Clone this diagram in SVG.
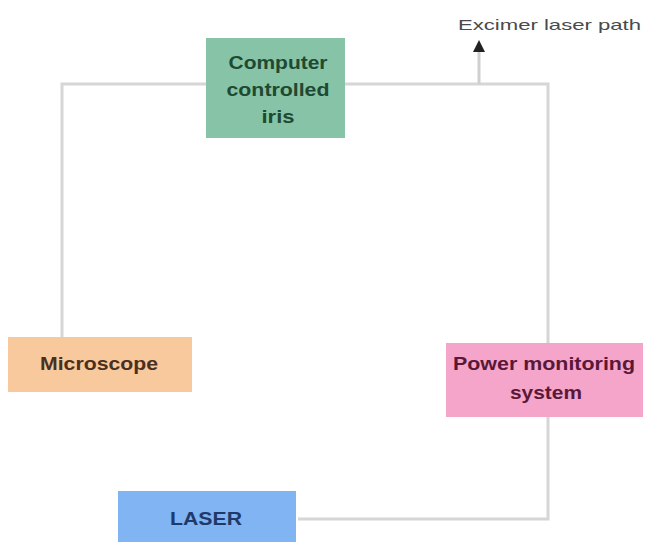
<svg xmlns="http://www.w3.org/2000/svg" width="648" height="542" viewBox="0 0 648 542">
<style>
.box{stroke:none}
.lbl{font-family:"Liberation Sans",Arial,sans-serif;font-weight:bold;font-size:18px;text-anchor:middle}
.conn{fill:none;stroke:#d6d6d6;stroke-width:3}
.note{font-family:"Liberation Sans",Arial,sans-serif;font-size:15px;fill:#4a4a4a}
</style>
<rect width="648" height="542" fill="#ffffff"/>
<g id="connectors">
<path class="conn" d="M298,519 H548 V84 H345"/>
<path class="conn" d="M207,84 H62 V337"/>
<path d="M479,84 V48" fill="none" stroke="#cfcfcf" stroke-width="3"/>
<path d="M473,52 L479,40 L485,52 Z" fill="#222"/>
</g>
<g id="iris">
<rect class="box" x="206" y="38" width="139" height="100" fill="#87c3a6"/>
<text class="lbl" fill="#1e4a32"><tspan x="278" y="69" textLength="99" lengthAdjust="spacingAndGlyphs">Computer</tspan><tspan x="278" y="96" textLength="103" lengthAdjust="spacingAndGlyphs">controlled</tspan><tspan x="278" y="123" textLength="33" lengthAdjust="spacingAndGlyphs">iris</tspan></text>
</g>
<g id="microscope">
<rect class="box" x="8" y="337" width="184" height="55" fill="#f9c99e"/>
<text class="lbl" x="99" y="370" fill="#4a3020" textLength="118" lengthAdjust="spacingAndGlyphs">Microscope</text>
</g>
<g id="power">
<rect class="box" x="446" y="343" width="197" height="74" fill="#f5a4ca"/>
<text class="lbl" fill="#5a1838"><tspan x="544" y="370" textLength="182" lengthAdjust="spacingAndGlyphs">Power monitoring</tspan><tspan x="546" y="399" textLength="72" lengthAdjust="spacingAndGlyphs">system</tspan></text>
</g>
<g id="laser">
<rect class="box" x="118" y="491" width="178" height="51" fill="#80b4f2"/>
<text class="lbl" x="206" y="525" fill="#1f3a68" textLength="72" lengthAdjust="spacingAndGlyphs">LASER</text>
</g>
<g id="excimer">
<text class="note" x="458" y="30" textLength="183" lengthAdjust="spacingAndGlyphs">Excimer laser path</text>
</g>
</svg>
